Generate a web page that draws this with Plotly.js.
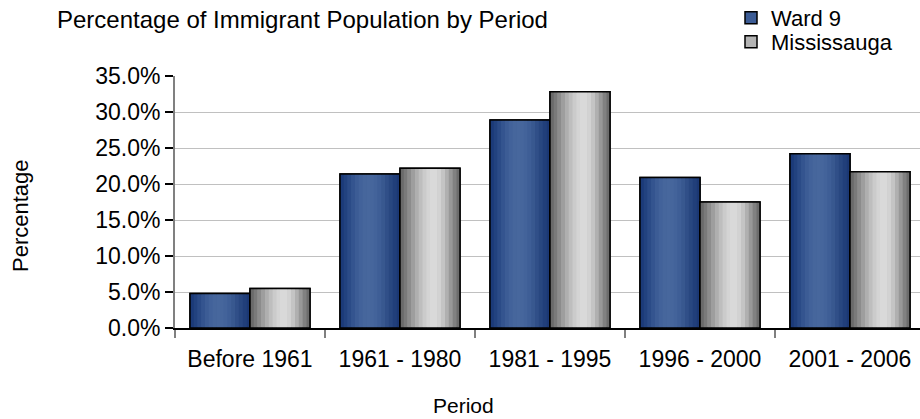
<!DOCTYPE html>
<html>
<head>
<meta charset="utf-8">
<script src="https://cdn.plot.ly/plotly-3.0.1.min.js"></script>
<style>
  html, body { margin: 0; padding: 0; overflow: hidden; background: #fff; }
  #chart { width: 930px; height: 419px; }
</style>
</head>
<body>
<div id="chart"></div>
<script>
// ---- Data ----
const categories = ["Before 1961", "1961 - 1980", "1981 - 1995", "1996 - 2000", "2001 - 2006"];
const ward9 = [4.8, 21.4, 28.9, 20.9, 24.2];
const mississauga = [5.5, 22.2, 32.8, 17.5, 21.7];
const seriesNames = ["Ward 9", "Mississauga"];
const chartTitle = "Percentage of Immigrant Population by Period";
const xTitle = "Period";
const yTitle = "Percentage";

// ---- Styling (gradient stripes emulating the cylinder shading) ----
const blueStripes = ["#1b3a78","#22427f","#2b4b87","#34548f","#3c5c95","#42629a","#46669c","#47679d",
                     "#46669c","#43639a","#3e5e96","#38588f","#304f88","#284780","#213f7a","#1b3874"];
const grayStripes = ["#6a6a6a","#7a7a7a","#8c8c8c","#9e9e9e","#afafaf","#bebebe","#cbcbcb","#d4d4d4",
                     "#d9d9d9","#d9d9d9","#d2d2d2","#c4c4c4","#b0b0b0","#989898","#818181","#6c6c6c"];

const barW = 0.4;
function seriesTraces(name, values, offset, stripes, mid, legendId) {
  const out = [];
  out.push({
    type: "bar", name: name, x: categories, y: values,
    offset: offset, width: barW,
    marker: { color: mid, line: { color: "#000", width: 1.5 } },
    hoverinfo: "skip", showlegend: true, legend: legendId
  });
  const n = stripes.length;
  const sw = barW / n;
  stripes.forEach((c, i) => {
    out.push({
      type: "bar", x: categories, y: values,
      offset: offset + i * sw, width: sw * 1.08,
      marker: { color: c, line: { width: 0 } },
      hoverinfo: "skip", showlegend: false
    });
  });
  out.push({
    type: "bar", x: categories, y: values,
    offset: offset, width: barW,
    marker: { color: "rgba(0,0,0,0)", line: { color: "#000", width: 1.5 } },
    hoverinfo: "skip", showlegend: false
  });
  return out;
}

const traces = [].concat(
  seriesTraces(seriesNames[0], ward9, -0.4, blueStripes, "#3c5c95", "legend"),
  seriesTraces(seriesNames[1], mississauga, 0, grayStripes, "#b4b4b4", "legend2")
);

const font = "Liberation Sans, Arial, sans-serif";
const legendFont = { family: font, size: 22, color: "#000" };
const W = 930, H = 419, L = 175, R = 5, T = 76, B = 91;
const pw = W - L - R, ph = H - T - B;

const layout = {
  width: W, height: H,
  margin: { l: L, r: R, t: T, b: B, autoexpand: false },
  paper_bgcolor: "#fff", plot_bgcolor: "#fff",
  barmode: "overlay",
  font: { family: font, color: "#000", size: 23 },
  title: {
    text: chartTitle,
    font: { family: font, size: 24, color: "#000" },
    x: 57 / W, xanchor: "left", xref: "container",
    y: 1 - 20 / H, yanchor: "middle", yref: "container"
  },
  showlegend: true,
  legend: {
    x: (731 - L) / pw, xanchor: "left", y: 1 + (T - 18) / ph, yanchor: "middle",
    font: legendFont, bgcolor: "rgba(0,0,0,0)", borderwidth: 0
  },
  legend2: {
    x: (731 - L) / pw, xanchor: "left", y: 1 + (T - 42) / ph, yanchor: "middle",
    font: legendFont, bgcolor: "rgba(0,0,0,0)", borderwidth: 0
  },
  xaxis: {
    type: "category",
    showline: true, linecolor: "#000", linewidth: 1.5,
    ticks: "outside", tickson: "boundaries", ticklen: 8, tickwidth: 1.5, tickcolor: "#808080",
    ticklabelstandoff: 10,
    showgrid: false, zeroline: false,
    tickfont: { family: font, size: 23, color: "#000" },
    fixedrange: true
  },
  yaxis: {
    range: [0, 35], dtick: 5, tick0: 0,
    tickformat: ".1f", ticksuffix: "%",
    showline: true, linecolor: "#808080", linewidth: 2,
    ticks: "outside", ticklen: 8, tickwidth: 1.5, tickcolor: "#000",
    showgrid: true, gridcolor: "#c0c0c0", gridwidth: 1,
    zeroline: false,
    tickfont: { family: font, size: 23, color: "#000" },
    fixedrange: true
  },
  annotations: [
    {
      text: xTitle, showarrow: false,
      xref: "paper", yref: "paper",
      x: (463 - L) / pw, y: -(405 - (T + ph)) / ph,
      xanchor: "center", yanchor: "middle",
      font: { family: font, size: 21, color: "#000" }
    },
    {
      text: yTitle, showarrow: false, textangle: -90,
      xref: "paper", yref: "paper",
      x: (20 - L) / pw, y: ((T + ph) - 216) / ph,
      xanchor: "center", yanchor: "middle",
      font: { family: font, size: 22, color: "#000" }
    }
  ]
};

Plotly.newPlot("chart", traces, layout, { displayModeBar: false, staticPlot: true });
</script>
</body>
</html>
